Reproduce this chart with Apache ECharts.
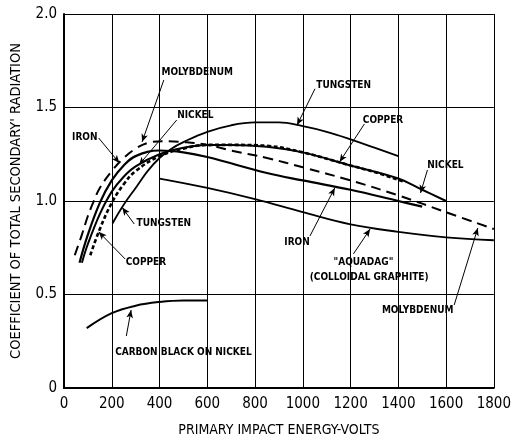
<!DOCTYPE html>
<html><head><meta charset="utf-8">
<script src="https://cdn.jsdelivr.net/npm/echarts@6/dist/echarts.min.js"></script>
<style>html,body{margin:0;padding:0;background:#fff}#c{width:514px;height:445px}</style>
</head><body><div id="c"></div>
<script>
// ---- tick labels ----
const xTicks = [0,200,400,600,800,1000,1200,1400,1600,1800];
const yTicks = [0,0.5,1.0,1.5,2.0];
// ---- series data (x = primary impact energy, volts; y = coefficient) ----
const molyX = [45,75,100,125,150,200,250,300,350,420,500,600,700,850,1000,1200,1400,1600,1800];
const molyY = [0.71,0.82,0.92,1.0,1.07,1.16,1.23,1.28,1.31,1.32,1.315,1.30,1.27,1.23,1.18,1.11,1.03,0.94,0.85];
const ironX = [65,100,150,200,250,300,400,500,600,850,1000,1200,1400,1500];
const ironY = [0.67,0.82,0.99,1.11,1.19,1.24,1.27,1.26,1.235,1.15,1.11,1.06,1.0,0.97];
const nickelX = [75,100,150,200,250,300,400,500,600,700,850,1000,1200,1400,1500,1600];
const nickelY = [0.67,0.77,0.93,1.05,1.13,1.185,1.25,1.285,1.30,1.30,1.29,1.26,1.19,1.12,1.06,1.0];
const copperX = [110,150,200,250,300,400,500,600,700,850,1000,1200,1300,1430];
const copperY = [0.71,0.85,0.99,1.09,1.16,1.24,1.28,1.30,1.30,1.295,1.26,1.19,1.155,1.10];
const tungX = [203,250,300,350,400,450,500,600,700,800,900,1000,1100,1200,1300,1400];
const tungY = [0.88,0.98,1.07,1.16,1.23,1.28,1.315,1.37,1.405,1.42,1.42,1.40,1.37,1.33,1.285,1.24];
const aquaX = [400,600,800,1000,1200,1400,1600,1800];
const aquaY = [1.12,1.07,1.01,0.94,0.875,0.835,0.805,0.79];
const carbonX = [95,200,300,400,500,600];
const carbonY = [0.32,0.40,0.44,0.46,0.468,0.468];
// ---- annotation labels: text, anchor (data coords) ----
const labelTexts = ['MOLYBDENUM','NICKEL','IRON','TUNGSTEN','COPPER','NICKEL','TUNGSTEN','COPPER','IRON','"AQUADAG"','(COLLOIDAL GRAPHITE)','MOLYBDENUM','CARBON BLACK ON NICKEL'];
const labelX = [558,550,87,1171,1336,1597,418,343,976,1254,1278,1481,500];
const labelY = [1.69,1.46,1.342,1.62,1.433,1.193,0.882,0.674,0.78,0.674,0.594,0.417,0.193];
// ---- annotation arrows: from (x0,y0) to (x1,y1) ----
const arrowX0 = [418,472,145,1051,1258,1522,294,256,1030,1212,1634,261];
const arrowY0 = [1.647,1.433,1.337,1.60,1.412,1.166,0.877,0.69,0.813,0.717,0.444,0.278];
const arrowX1 = [327,314,232,976,1154,1493,244,145,1134,1282,1733,281];
const arrowY1 = [1.316,1.193,1.203,1.406,1.209,1.043,0.965,0.835,1.07,0.85,0.856,0.417];

const zip = (xs, ys) => xs.map((x, i) => [x, ys[i]]);
const FONT = "'Liberation Sans Narrow','DejaVu Sans Condensed',sans-serif";

const chart = echarts.init(document.getElementById('c'), null, {renderer:'canvas'});

function lineSeries(name, xs, ys, width, type, smooth) {
  return {
    name, type:'line', data: zip(xs, ys), showSymbol:false, smooth: smooth,
    lineStyle:{color:'#000', width:width, type:type, cap:'butt'}, silent:true, z:3
  };
}

const annotMarkLine = {
  silent:true, symbol:['none','arrow'], symbolSize:[5,8],
  lineStyle:{color:'#000', width:1, type:'solid'},
  label:{show:false},
  data: arrowX0.map((x, i) => [{coord:[x, arrowY0[i]]},{coord:[arrowX1[i], arrowY1[i]]}])
};
const annotMarkPoint = {
  silent:true, symbol:'circle', symbolSize:0,
  label:{show:true, position:'inside', color:'#000', fontFamily:FONT, fontWeight:'bold', fontSize:10},
  data: labelTexts.map((t, i) => ({coord:[labelX[i], labelY[i]], label:{formatter:t}}))
};

const option = {
  animation:false,
  backgroundColor:'#fff',
  grid:{left:64, right:15, top:14, bottom:57, containLabel:false, show:false},
  xAxis:{
    type:'value', min:0, max:1800, interval:200,
    name:'PRIMARY IMPACT ENERGY-VOLTS', nameLocation:'middle', nameGap:35,
    nameTextStyle:{fontFamily:FONT, fontSize:14, color:'#000'},
    axisLine:{lineStyle:{color:'#000', width:2}},
    axisTick:{show:false},
    axisLabel:{fontFamily:FONT, fontSize:15, color:'#000', margin:9,
      formatter:(v)=> xTicks.includes(v) ? String(v) : ''},
    splitLine:{show:true, lineStyle:{color:'#000', width:1}}
  },
  yAxis:{
    type:'value', min:0, max:2.0, interval:0.5,
    name:"COEFFICIENT OF TOTAL SECONDARY' RADIATION", nameLocation:'middle', nameGap:40,
    nameTextStyle:{fontFamily:FONT, fontSize:14.5, color:'#000'},
    axisLine:{lineStyle:{color:'#000', width:2}},
    axisTick:{show:false},
    axisLabel:{fontFamily:FONT, fontSize:15, color:'#000', margin:7,
      formatter:(v)=> yTicks.includes(v) ? (v === 0 ? '0' : v.toFixed(1)) : ''},
    splitLine:{show:true, lineStyle:{color:'#000', width:1}}
  },
  series:[
    lineSeries('Molybdenum', molyX, molyY, 2, [10,6], 0.4),
    lineSeries('Iron', ironX, ironY, 2.2, 'solid', 0.4),
    lineSeries('Nickel', nickelX, nickelY, 2, 'solid', 0.4),
    lineSeries('Copper', copperX, copperY, 2.6, [4,2.5], 0.4),
    lineSeries('Tungsten', tungX, tungY, 1.8, 'solid', 0.4),
    Object.assign(lineSeries('Aquadag', aquaX, aquaY, 1.8, 'solid', 0.4), {markLine:annotMarkLine, markPoint:annotMarkPoint}),
    lineSeries('Carbon black on nickel', carbonX, carbonY, 2, 'solid', 0.4)
  ]
};
chart.setOption(option);
</script>
</body></html>
